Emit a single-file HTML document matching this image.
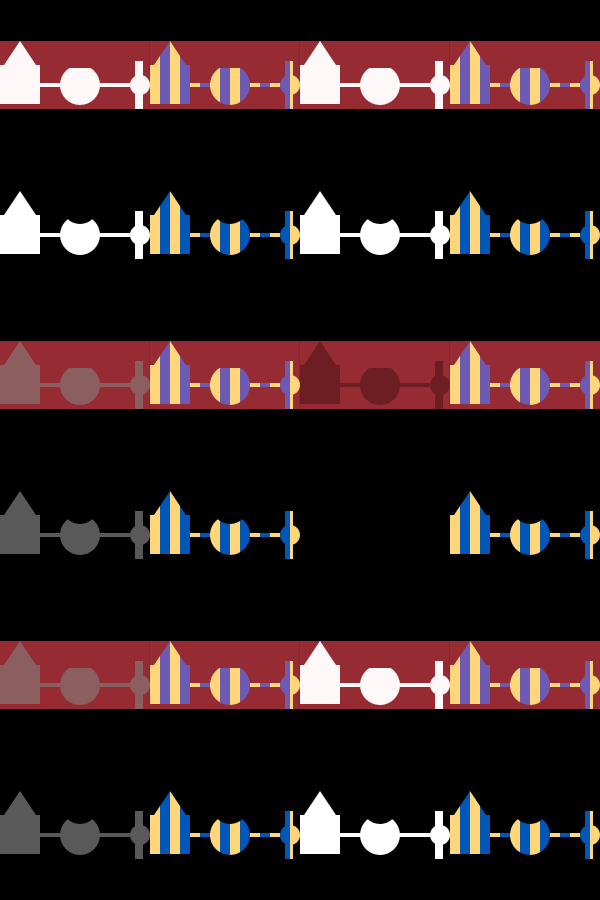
<!DOCTYPE html>
<html><head><meta charset="utf-8"><style>html,body{margin:0;padding:0;background:#000}svg{display:block}</style></head><body>
<svg width="600" height="900" viewBox="0 0 600 900" xmlns="http://www.w3.org/2000/svg">
<defs>
<mask id="notch" maskUnits="userSpaceOnUse" x="0" y="0" width="150" height="150"><rect width="150" height="150" fill="#fff"/><circle cx="80" cy="56" r="18" fill="#000"/></mask>
<clipPath id="flat"><rect x="0" y="68" width="150" height="40"/></clipPath>
<g id="base"><polygon points="0,65 4,65 20,41 36,65 40,65 40,104 0,104"/><rect x="40" y="83" width="90" height="4"/><circle cx="140" cy="85" r="10"/><rect x="135" y="61" width="8" height="48"/></g>
<g id="cf"><circle cx="80" cy="85" r="20" clip-path="url(#flat)"/></g>
<g id="cn"><circle cx="80" cy="85" r="20" mask="url(#notch)"/></g>
<mask id="mf" maskUnits="userSpaceOnUse" x="0" y="0" width="150" height="150"><g fill="#fff"><use href="#base"/><use href="#cf"/></g></mask>
<mask id="mn" maskUnits="userSpaceOnUse" x="0" y="0" width="150" height="150"><g fill="#fff"><use href="#base"/><use href="#cn"/></g></mask>
<g id="yst" fill="#ffd67a"><rect x="0" y="0" width="10" height="150"/><rect x="20" y="0" width="10" height="150"/><rect x="40" y="0" width="10" height="150"/><rect x="60" y="0" width="10" height="150"/><rect x="80" y="0" width="10" height="150"/><rect x="100" y="0" width="10" height="150"/><rect x="120" y="0" width="10" height="150"/><rect x="140" y="0" width="10" height="150"/></g>
<g id="sp"><rect width="150" height="150" fill="#6b5bb5"/><use href="#yst"/></g>
<g id="sb"><rect width="150" height="150" fill="#0057b8"/><use href="#yst"/></g>
</defs>
<rect width="600" height="900" fill="#000"/>
<rect x="0" y="41" width="600" height="68" fill="#962b33"/>
<rect x="0" y="341" width="600" height="68" fill="#962b33"/>
<rect x="0" y="641" width="600" height="68" fill="#962b33"/>
<g fill="#85252c"><rect x="149" y="41" width="1" height="68"/><rect x="299" y="41" width="1" height="68"/><rect x="449" y="41" width="1" height="68"/><rect x="149" y="341" width="1" height="68"/><rect x="299" y="341" width="1" height="68"/><rect x="449" y="341" width="1" height="68"/><rect x="149" y="641" width="1" height="68"/><rect x="299" y="641" width="1" height="68"/><rect x="449" y="641" width="1" height="68"/></g>
<!-- row 0 -->
<g transform="translate(0,0)" fill="#fff8f8"><use href="#base"/><use href="#cf"/></g>
<g transform="translate(150,0)"><g mask="url(#mf)"><use href="#sp"/></g></g>
<g transform="translate(300,0)" fill="#fff8f8"><use href="#base"/><use href="#cf"/></g>
<g transform="translate(450,0)"><g mask="url(#mf)"><use href="#sp"/></g></g>
<!-- row 1 -->
<g transform="translate(0,150)" fill="#ffffff"><use href="#base"/><use href="#cn"/></g>
<g transform="translate(150,150)"><g mask="url(#mn)"><use href="#sb"/></g></g>
<g transform="translate(300,150)" fill="#ffffff"><use href="#base"/><use href="#cn"/></g>
<g transform="translate(450,150)"><g mask="url(#mn)"><use href="#sb"/></g></g>
<!-- row 2 -->
<g transform="translate(0,300)" fill="#8b5f60"><use href="#base"/><use href="#cf"/></g>
<g transform="translate(150,300)"><g mask="url(#mf)"><use href="#sp"/></g></g>
<g transform="translate(300,300)" fill="#6d1e23"><use href="#base"/><use href="#cf"/></g>
<g transform="translate(450,300)"><g mask="url(#mf)"><use href="#sp"/></g></g>
<!-- row 3 -->
<g transform="translate(0,450)" fill="#595959"><use href="#base"/><use href="#cn"/></g>
<g transform="translate(150,450)"><g mask="url(#mn)"><use href="#sb"/></g></g>
<g transform="translate(450,450)"><g mask="url(#mn)"><use href="#sb"/></g></g>
<!-- row 4 -->
<g transform="translate(0,600)" fill="#8b5f60"><use href="#base"/><use href="#cf"/></g>
<g transform="translate(150,600)"><g mask="url(#mf)"><use href="#sp"/></g></g>
<g transform="translate(300,600)" fill="#fff8f8"><use href="#base"/><use href="#cf"/></g>
<g transform="translate(450,600)"><g mask="url(#mf)"><use href="#sp"/></g></g>
<!-- row 5 -->
<g transform="translate(0,750)" fill="#595959"><use href="#base"/><use href="#cn"/></g>
<g transform="translate(150,750)"><g mask="url(#mn)"><use href="#sb"/></g></g>
<g transform="translate(300,750)" fill="#ffffff"><use href="#base"/><use href="#cn"/></g>
<g transform="translate(450,750)"><g mask="url(#mn)"><use href="#sb"/></g></g>
</svg>
</body></html>
